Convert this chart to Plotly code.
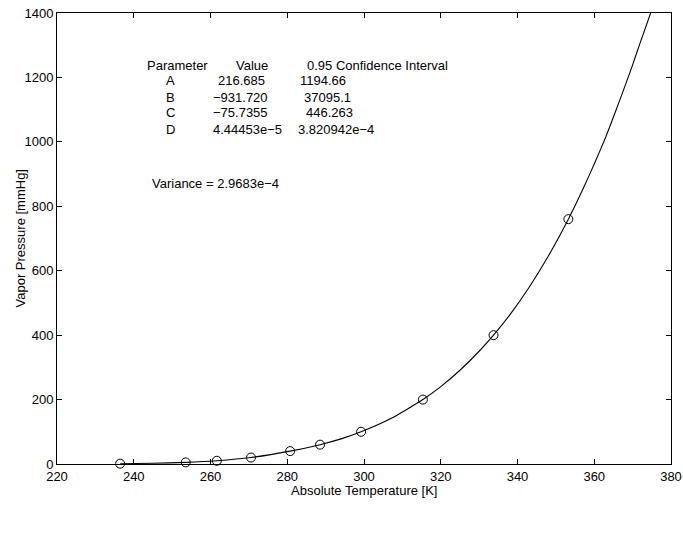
import plotly.graph_objects as go

# Measured data (absolute temperature K, vapor pressure mmHg)
temp_data = [236.45, 253.55, 261.65, 270.55, 280.75, 288.55, 299.25, 315.35, 333.75, 353.25]
pres_data = [1, 5, 10, 20, 40, 60, 100, 200, 400, 760]

# Fitted curve
temp_fit = [236.45, 245.0, 253.55, 261.65, 270.55, 280.75, 288.55, 294.0, 299.25, 307.0,
            315.35, 320.0, 325.0, 330.0, 333.75, 338.0, 343.0, 348.0, 353.25, 357.0,
            360.0, 363.0, 365.0, 368.0, 370.0, 372.0, 374.7]
pres_fit = [1, 2.5, 5, 10, 20, 40, 60, 78, 100, 141,
            200, 240, 291, 350, 400, 463, 548, 645, 760, 852,
            931, 1015, 1077, 1173, 1239, 1309, 1400]

x_ticks = [220, 240, 260, 280, 300, 320, 340, 360, 380]
y_ticks = [0, 200, 400, 600, 800, 1000, 1200, 1400]

x_title = "Absolute Temperature [K]"
y_title = "Vapor Pressure [mmHg]"

param_names = ["A", "B", "C", "D"]
param_values = ["216.685", "\u2212931.720", "\u221275.7355", "4.44453e\u22125"]
param_ci = ["1194.66", "37095.1", "446.263", "3.820942e\u22124"]
variance_text = "Variance = 2.9683e\u22124"

FONT = "Liberation Sans, Arial, Helvetica, sans-serif"
FS = 13

fig = go.Figure()
fig.add_trace(go.Scatter(x=temp_fit, y=pres_fit, mode="lines",
                         line=dict(color="black", width=1.1, shape="spline", smoothing=0.5),
                         hoverinfo="skip", showlegend=False))
fig.add_trace(go.Scatter(x=temp_data, y=pres_data, mode="markers",
                         marker=dict(symbol="circle-open", size=9, color="black",
                                     line=dict(color="black", width=1)),
                         cliponaxis=False, showlegend=False))

L, R, T, B = 57, 12, 13, 71
W, H = 683, 535
pw = W - L - R
ph = H - T - B

def px(xp):
    return (xp - L) / pw

def py(yp):
    return (H - B - yp) / ph

ann = []
def add(text, x, y, xanchor="left", angle=0):
    ann.append(dict(text=text, x=px(x), y=py(y), xref="paper", yref="paper",
                    xanchor=xanchor, yanchor="middle", showarrow=False, textangle=angle,
                    font=dict(family=FONT, size=FS, color="black")))

add("Parameter", 145, 65)
add("Value", 234, 65)
add("0.95 Confidence Interval", 305, 65)
row_y = [81, 97, 113, 129]
val_x = [216, 211, 211, 211]
ci_x = [298, 302, 304, 296]
for i in range(4):
    add(param_names[i], 164, row_y[i])
    add(param_values[i], val_x[i], row_y[i])
    add(param_ci[i], ci_x[i], row_y[i])
add(variance_text, 150, 183)

# axis titles
add(x_title, L + pw / 2, 490, xanchor="center")
add(y_title, 20, T + ph / 2, xanchor="center", angle=-90)

fig.update_layout(
    width=W, height=H,
    margin=dict(l=L, r=R, t=T, b=B, pad=0),
    paper_bgcolor="white", plot_bgcolor="white",
    font=dict(family=FONT, size=FS, color="black"),
    annotations=ann,
    xaxis=dict(range=[220, 380], tickvals=x_ticks, ticktext=[str(v) for v in x_ticks],
               showgrid=False, zeroline=False, showline=True, linecolor="black", linewidth=1,
               mirror="ticks", ticks="inside", ticklen=5, tickcolor="black", tickwidth=1,
               ticklabeloverflow="allow", automargin=False,
               tickfont=dict(family=FONT, size=FS, color="black")),
    yaxis=dict(range=[0, 1400], tickvals=y_ticks, ticktext=[str(v) for v in y_ticks],
               showgrid=False, zeroline=False, showline=True, linecolor="black", linewidth=1,
               mirror="ticks", ticks="inside", ticklen=5, tickcolor="black", tickwidth=1,
               ticklabeloverflow="allow", automargin=False,
               tickfont=dict(family=FONT, size=FS, color="black")),
)

fig.write_html("out.html")
